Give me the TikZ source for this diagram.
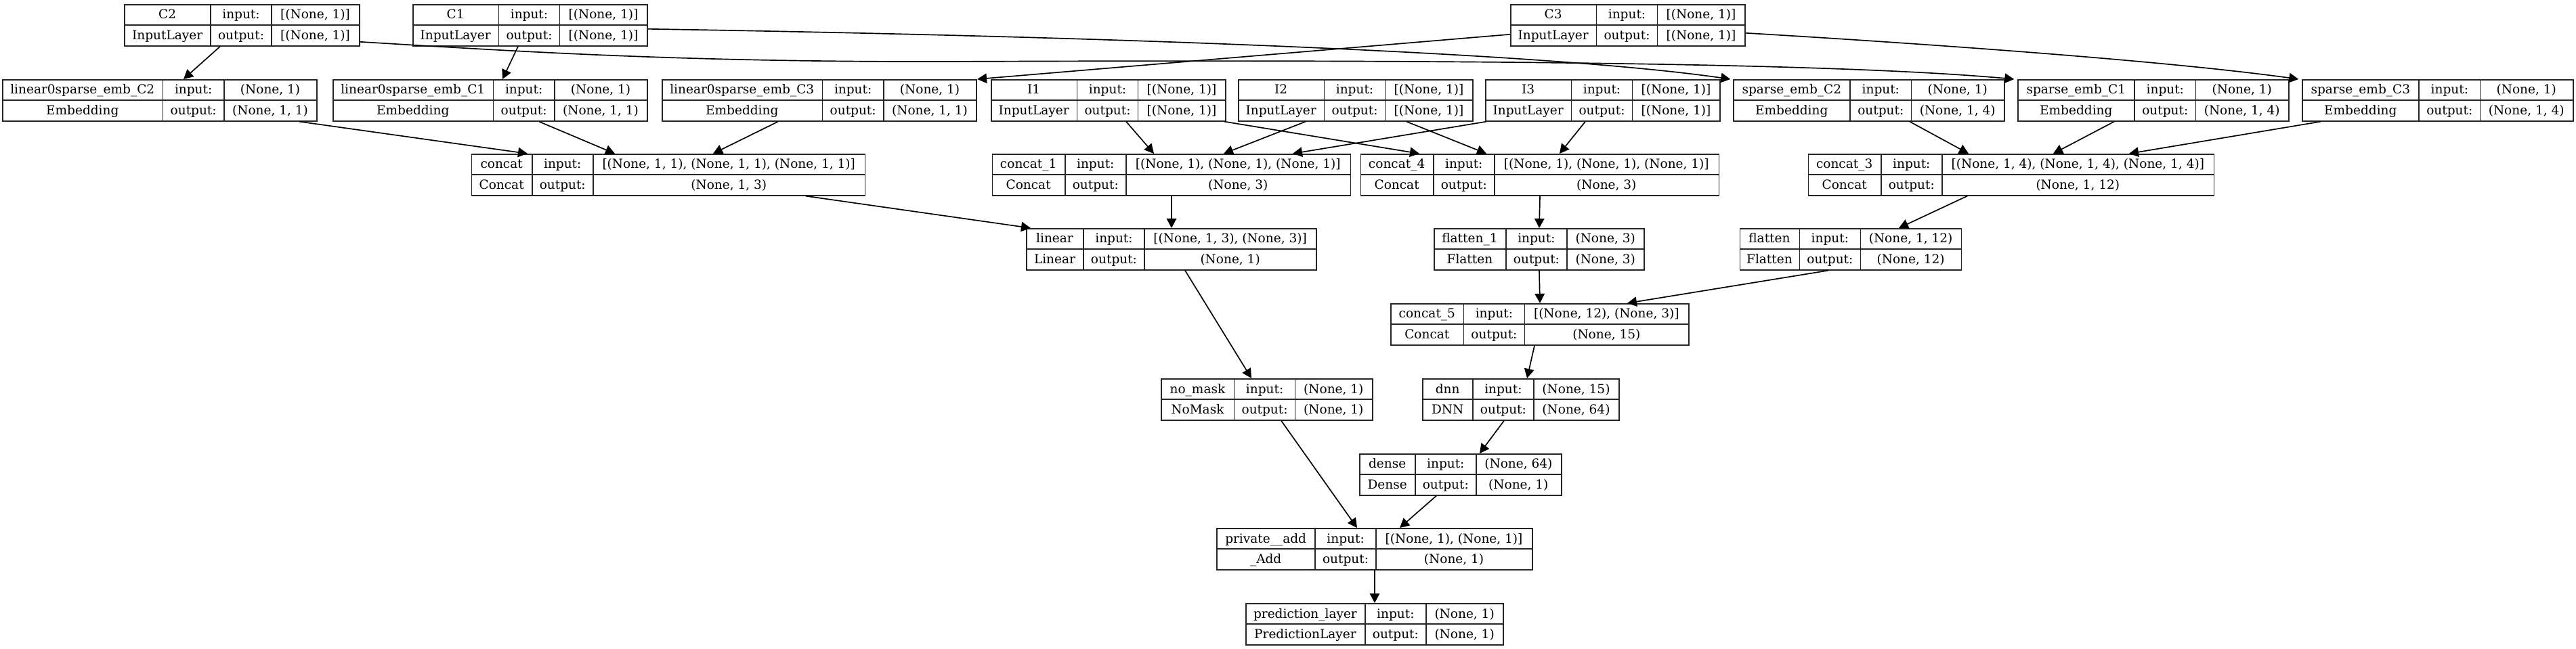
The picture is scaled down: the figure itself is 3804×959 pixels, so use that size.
\documentclass[tikz,border=0pt]{standalone}
\usepackage{fontspec}
\setmainfont{DejaVu Serif}
\usetikzlibrary{arrows.meta,calc}
\font\lfprim="Liberation Serif" at 5.83pt
\font\dvprim="DejaVu Serif" at 4.63pt
\newcommand\lfont{\dvprim}
\newlength\colA \newlength\colB \newlength\colC \newlength\tmpw \newlength\boxw
\newcommand\maxwd[3]{\settowidth{#1}{\lfprim #2}\settowidth{\tmpw}{\lfprim #3}\ifdim\tmpw>#1\relax\setlength{#1}{\tmpw}\fi\addtolength{#1}{6pt}}
\tikzset{
 box/.style={draw=black!85, line width=0.42pt, minimum height=15.25pt, inner sep=0pt, anchor=north},
 sepline/.style={draw=black!85, line width=0.42pt},
 txt/.style={font=\lfont, inner sep=0pt, text height=3.38pt, text depth=0pt, anchor=center},
 edge/.style={draw=black, line width=0.42pt, -{Triangle[length=3.5pt,width=3.6pt]}},
}
\newcommand\layer[7]{%
 \maxwd\colA{#4}{#5}%
 \maxwd\colB{input:}{output:}%
 \maxwd\colC{#6}{#7}%
 \setlength\boxw{\dimexpr\colA+\colB+\colC\relax}%
 \node[box, minimum width=\boxw] (#1) at (#2,#3) {};
 \draw[sepline] ([xshift=\colA]#1.north west) -- ([xshift=\colA]#1.south west);
 \draw[sepline] ([xshift=\colA+\colB]#1.north west) -- ([xshift=\colA+\colB]#1.south west);
 \draw[sepline] (#1.west) -- (#1.east);
 \node[txt] (#1-n) at ([xshift=0.5*\colA, yshift=-3.8125pt]#1.north west) {#4};
 \node[txt] (#1-c) at ([xshift=0.5*\colA, yshift=-11.4375pt]#1.north west) {#5};
 \node[txt] (#1-i) at ([xshift=\colA+0.5*\colB, yshift=-3.8125pt]#1.north west) {input:};
 \node[txt] (#1-o) at ([xshift=\colA+0.5*\colB, yshift=-11.4375pt]#1.north west) {output:};
 \node[txt] (#1-iv) at ([xshift=\colA+\colB+0.5*\colC, yshift=-3.8125pt]#1.north west) {#6};
 \node[txt] (#1-ov) at ([xshift=\colA+\colB+0.5*\colC, yshift=-11.4375pt]#1.north west) {#7};
}
\begin{document}
\begin{tikzpicture}[x=0.25pt, y=-0.25pt]
\fill[white] (0,0) rectangle (3804,959);
\useasboundingbox (0,0) rectangle (3804,959);
% row 1
\layer{C2}{357.5}{6}{C2}{InputLayer}{[(None, 1)]}{[(None, 1)]}
\layer{C1}{783}{6}{C1}{InputLayer}{[(None, 1)]}{[(None, 1)]}
\layer{C3}{2404}{6}{C3}{InputLayer}{[(None, 1)]}{[(None, 1)]}
% row 2
\layer{linC2}{236}{117}{linear0sparse\_emb\_C2}{Embedding}{(None, 1)}{(None, 1, 1)}
\layer{linC1}{724}{117}{linear0sparse\_emb\_C1}{Embedding}{(None, 1)}{(None, 1, 1)}
\layer{linC3}{1210}{117}{linear0sparse\_emb\_C3}{Embedding}{(None, 1)}{(None, 1, 1)}
\layer{I1}{1637}{117}{I1}{InputLayer}{[(None, 1)]}{[(None, 1)]}
\layer{I2}{2002}{117}{I2}{InputLayer}{[(None, 1)]}{[(None, 1)]}
\layer{I3}{2367}{117}{I3}{InputLayer}{[(None, 1)]}{[(None, 1)]}
\layer{sEC2}{2760}{117}{sparse\_emb\_C2}{Embedding}{(None, 1)}{(None, 1, 4)}
\layer{sEC1}{3180}{117}{sparse\_emb\_C1}{Embedding}{(None, 1)}{(None, 1, 4)}
\layer{sEC3}{3600}{117}{sparse\_emb\_C3}{Embedding}{(None, 1)}{(None, 1, 4)}
% row 3
\layer{concat}{987}{227}{concat}{Concat}{[(None, 1, 1), (None, 1, 1), (None, 1, 1)]}{(None, 1, 3)}
\layer{concatA}{1730}{227}{concat\_1}{Concat}{[(None, 1), (None, 1), (None, 1)]}{(None, 3)}
\layer{concatD}{2274}{227}{concat\_4}{Concat}{[(None, 1), (None, 1), (None, 1)]}{(None, 3)}
\layer{concatC}{2970}{227}{concat\_3}{Concat}{[(None, 1, 4), (None, 1, 4), (None, 1, 4)]}{(None, 1, 12)}
% row 4
\layer{linear}{1730}{337}{linear}{Linear}{[(None, 1, 3), (None, 3)]}{(None, 1)}
\layer{flatA}{2273}{337}{flatten\_1}{Flatten}{(None, 3)}{(None, 3)}
\layer{flat}{2733}{337}{flatten}{Flatten}{(None, 1, 12)}{(None, 12)}
% row 5
\layer{concatE}{2274}{448}{concat\_5}{Concat}{[(None, 12), (None, 3)]}{(None, 15)}
% row 6
\layer{nomask}{1871}{559}{no\_mask}{NoMask}{(None, 1)}{(None, 1)}
\layer{dnn}{2246}{559}{dnn}{DNN}{(None, 15)}{(None, 64)}
% row 7
\layer{dense}{2157}{670}{dense}{Dense}{(None, 64)}{(None, 1)}
% row 8
\layer{add}{2030}{780}{private\_\_add}{\_Add}{[(None, 1), (None, 1)]}{(None, 1)}
% row 9
\layer{pred}{2030}{891}{prediction\_layer}{PredictionLayer}{(None, 1)}{(None, 1)}

% edges row1 -> row2
\draw[edge] ($(C2.south)+(-32.5,0)$) -- ($(linC2.north)+(35,0)$);
\draw[edge] ($(C1.south)+(-18,0)$) -- ($(linC1.north)+(18,0)$);
\draw[edge] ($(C3.west)+(0,13.5)$) -- (linC3.north east);
\draw[edge] ($(C1.east)+(0,5.5)$) .. controls (1700,55) and (2300,80) .. ($(sEC2.north west)+(-4,0)$);
\coordinate (via1) at (1400,91);
\draw[edge] ($(C2.east)+(0,24.5)$) .. controls (750,75) and (1000,92) .. (via1) .. controls (2100,88) and (2700,92) .. ($(sEC1.north west)+(-5,0)$);
\draw[edge] ($(C3.east)+(0,11.5)$) .. controls (2850,65) and (3200,90) .. ($(sEC3.north west)+(-5,0)$);
% row2 -> row3
\draw[edge] ($(linC2.south)+(206,0)$) -- ($(concat.north)+(-208,0)$);
\draw[edge] ($(linC1.south)+(72,0)$) -- ($(concat.north)+(-79,0)$);
\draw[edge] ($(linC3.south)+(-61,0)$) -- ($(concat.north)+(66,0)$);
\draw[edge] ($(I1.south)+(26,0)$) -- ($(concatA.north)+(-26,0)$);
\draw[edge] ($(I2.south)+(-74,0)$) -- ($(concatA.north)+(77,0)$);
\draw[edge] ($(I3.south)+(-172,0)$) -- ($(concatA.north)+(179,0)$);
\draw[edge] ($(I1.south)+(171,0)$) -- ($(concatD.north)+(-178,0)$);
\draw[edge] ($(I2.south)+(75,0)$) -- ($(concatD.north)+(-79,0)$);
\draw[edge] ($(I3.south)+(-26,0)$) -- ($(concatD.north)+(29,0)$);
\draw[edge] ($(sEC2.south)+(60,0)$) -- ($(concatC.north)+(-63,0)$);
\draw[edge] ($(sEC1.south)+(-58,0)$) -- ($(concatC.north)+(62,0)$);
\draw[edge] ($(sEC3.south)+(-173,0)$) -- ($(concatC.north)+(174,0)$);
% row3 -> row4
\draw[edge] ($(concat.south)+(203,0)$) -- ($(linear.north)+(-208,0)$);
\draw[edge] (concatA.south) -- (linear.north);
\draw[edge] (concatD.south) -- (flatA.north);
\draw[edge] ($(concatC.south)+(-65,0)$) -- ($(flat.north)+(71,0)$);
% lower
\draw[edge] (flatA.south) -- (concatE.north);
\draw[edge] ($(flat.south)+(-33,0)$) -- ($(concatE.north)+(129,0)$);
\draw[edge] ($(concatE.south)+(-8,0)$) -- ($(dnn.north)+(9,0)$);
\draw[edge] ($(linear.south)+(20,0)$) -- ($(nomask.north)+(-23,0)$);
\draw[edge] ($(nomask.south)+(21,0)$) -- ($(add.north)+(-26,0)$);
\draw[edge] ($(dnn.south)+(-25,0)$) -- ($(dense.north)+(28,0)$);
\draw[edge] ($(dense.south)+(-36,0)$) -- ($(add.north)+(37,0)$);
\draw[edge] (add.south) -- (pred.north);
\end{tikzpicture}
\end{document}
